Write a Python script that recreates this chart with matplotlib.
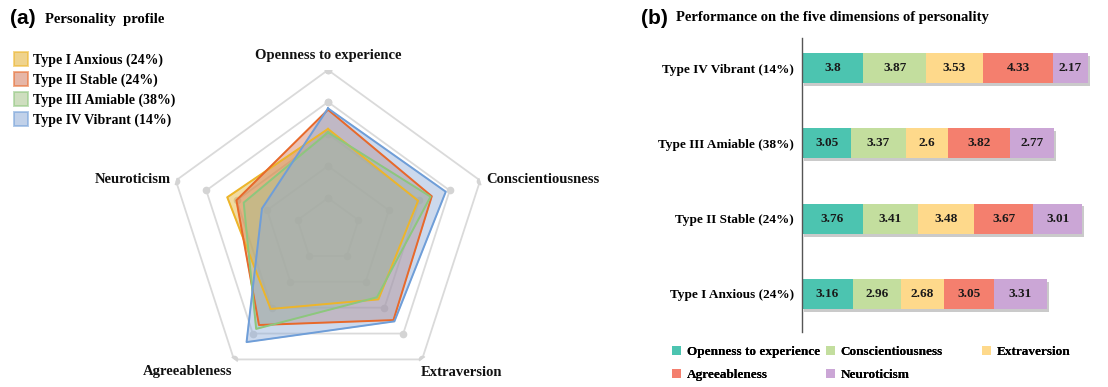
import numpy as np
import matplotlib
matplotlib.use("Agg")
import matplotlib.pyplot as plt
import matplotlib.patheffects as pe
from matplotlib.lines import Line2D
from matplotlib.patches import Patch

plt.rcParams['font.family'] = ['Liberation Serif', 'DejaVu Serif']
plt.rcParams['font.weight'] = 'bold'

dimensions = ["Openness to experience", "Conscientiousness", "Extraversion",
              "Agreeableness", "Neuroticism"]
types = ["Type I Anxious (24%)", "Type II Stable (24%)",
         "Type III Amiable (38%)", "Type IV Vibrant (14%)"]

# scores per type, in the order of dimensions
type_1 = [3.16, 2.96, 2.68, 3.05, 3.31]
type_2 = [3.76, 3.41, 3.48, 3.67, 3.01]
type_3 = [3.05, 3.37, 2.60, 3.82, 2.77]
type_4 = [3.80, 3.87, 3.53, 4.33, 2.17]
scores = [type_1, type_2, type_3, type_4]

ring_values = [1, 2, 3, 4, 5]

type_edge = ["#EDB52A", "#E8692A", "#8DC77D", "#6F9ED8"]
type_face = ["#E2B030", "#D27B60", "#A6C48C", "#8EACD8"]
dim_colors = ["#4CC4B0", "#C3DE9E", "#FED98B", "#F47F6E", "#CBA6D6"]

W, H = 1108, 387
fig = plt.figure(figsize=(W / 100, H / 100), dpi=100)

def fx(px):
    return px / W

def fy(py):
    return 1 - py / H

# ---------------- (a) radar ----------------
cx, cy, R = 328, 230, 160
ax = fig.add_axes([fx(cx - R), fy(cy + R), 2 * R / W, 2 * R / H], projection='polar')
ax.set_theta_zero_location('N')
ax.set_theta_direction(-1)
ax.set_ylim(0, 5)
ax.grid(False)
ax.spines['polar'].set_visible(False)
ax.set_xticks([])
ax.set_yticks([])
ax.patch.set_alpha(0)

angles = np.deg2rad(np.arange(5) * 72.0)
closed = np.append(angles, angles[0])

for v in ring_values:
    ax.plot(closed, [v] * 6, color="#DADADA", lw=1.3, marker='o', ms=4.5,
            mfc="#D4D4D4", mec="#D4D4D4", zorder=1)

for s, ec, fc in zip(scores, type_edge, type_face):
    vals = np.append(s, s[0])
    ax.fill(closed, vals, color=fc, alpha=0.45, zorder=2)
    ax.plot(closed, vals, color=ec, lw=1.4, zorder=3)

lab_kw = dict(fontsize=10.5, fontweight='bold', color="#111111")
fig.text(fx(328), fy(55), dimensions[0], ha='center', va='center', **lab_kw)
fig.text(fx(486), fy(180), dimensions[1], ha='left', va='center', **lab_kw)
fig.text(fx(461), fy(372), dimensions[2], ha='center', va='center', **lab_kw)
fig.text(fx(188), fy(372), dimensions[3], ha='center', va='center', **lab_kw)
fig.text(fx(171), fy(180), dimensions[4], ha='right', va='center', **lab_kw)

fig.text(fx(10), fy(19), "(a)", family='Liberation Sans', fontsize=15,
         fontweight='bold', ha='left', va='center')
fig.text(fx(45), fy(19), "Personality  profile", fontsize=10.5,
         ha='left', va='center')

handles = [Line2D([], [], marker='s', ls='none', ms=9.5, mfc=fc, mec=ec, mew=1.4,
                  alpha=0.55)
           for ec, fc in zip(type_edge, type_face)]
fig.legend(handles, types, loc='upper left', bbox_to_anchor=(fx(14), fy(54)),
           frameon=False, handlelength=1.0, handletextpad=0.4, labelspacing=0.45,
           borderaxespad=0, borderpad=0, prop=dict(size=10, weight='bold'))

# ---------------- (b) stacked bars ----------------
bx = fig.add_axes([fx(802), fy(332), 299 / W, 294 / H])
ypos = np.arange(len(types))
left = np.zeros(len(types))
shadow = [pe.SimplePatchShadow(offset=(1.2, -2.0), shadow_rgbFace='#8A8A8A', alpha=0.45),
          pe.Normal()]
for j, dim in enumerate(dimensions):
    vals = np.array([s[j] for s in scores])
    bars = bx.barh(ypos, vals, left=left, height=0.40, color=dim_colors[j],
                   label=dim, linewidth=0)
    for b in bars:
        b.set_path_effects(shadow)
    for y, l, v in zip(ypos, left, vals):
        bx.text(l + v / 2, y, f"{v:g}", ha='center', va='center',
                fontsize=9.5, fontweight='bold', color="#1A1A1A")
    left += vals

bx.set_xlim(0, 18.5)
bx.set_ylim(-0.505, 3.40)
bx.set_yticks(ypos)
bx.set_yticklabels(types, fontsize=9.5, fontweight='bold')
bx.tick_params(axis='y', length=0, pad=6)
bx.set_xticks([])
for side in ['top', 'right', 'bottom']:
    bx.spines[side].set_visible(False)
bx.spines['left'].set_color("#555555")
bx.spines['left'].set_linewidth(1.0)

fig.text(fx(641), fy(18), "(b)", family='Liberation Sans', fontsize=15,
         fontweight='bold', ha='left', va='center')
fig.text(fx(676), fy(18), "Performance on the five dimensions of personality",
         fontsize=10.5, ha='left', va='center')

# legend laid out as three columns: [Openness, Agreeableness], [Consc., Neuroticism], [Extraversion]
columns = [[0, 3], [1, 4], [2]]
col_x = [672, 826, 982]
for idx, x0 in zip(columns, col_x):
    hs = [Patch(facecolor=dim_colors[i], edgecolor='none') for i in idx]
    ls = [dimensions[i] for i in idx]
    leg = fig.legend(hs, ls, loc='upper left', bbox_to_anchor=(fx(x0), fy(346)),
                     frameon=False, handlelength=0.7, handleheight=0.7,
                     handletextpad=0.4, labelspacing=0.8, borderaxespad=0,
                     borderpad=0, prop=dict(size=9.5, weight='bold'))
    fig.add_artist(leg)

fig.savefig("out.png", dpi=100)
